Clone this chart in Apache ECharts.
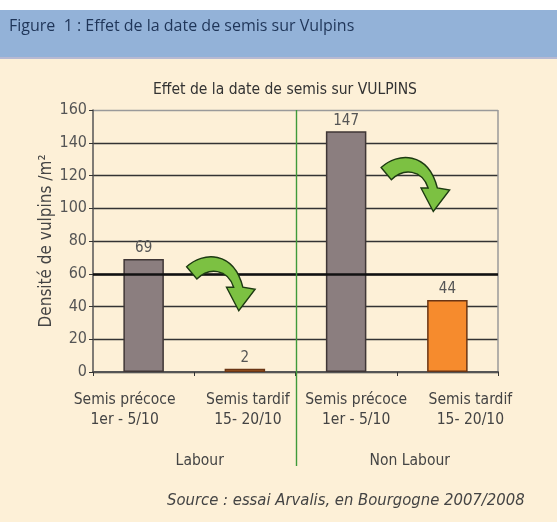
<!DOCTYPE html>
<html lang="fr">
<head>
  <meta charset="UTF-8">
  <title>Effet de la date de semis sur Vulpins</title>
  <script src="https://cdn.jsdelivr.net/npm/echarts@6/dist/echarts.min.js"></script>
  <style>
    html, body { margin: 0; padding: 0; background: #fff; }
    #chart { width: 557px; height: 522px; }
  </style>
</head>
<body>
  <div id="chart"></div>
<script>
  const categories = ["Semis précoce\n1er - 5/10", "Semis tardif\n15- 20/10", "Semis précoce\n1er - 5/10", "Semis tardif\n15- 20/10"];
  const groups = ["Labour", "Non Labour"];
  const values = [69, 2, 147, 44];
  const yTicks = [0, 20, 40, 60, 80, 100, 120, 140, 160];
  // where the green arrows sit: [category, value]
  const arrows = [[1, 60], [3, 120]];

  const font = "'Liberation Sans Narrow', 'DejaVu Sans Condensed', sans-serif";
  const grey = "#8b7e7f";
  const orange = "#f68b2d";
  const arrowPath = "M0 10 C16 -5 46 -6 55 30 L67 32 L51 53 L39 30 L46 30 C40 12 22 10 10 22 Z";

  const chart = echarts.init(document.getElementById("chart"));

  const option = {
    backgroundColor: "#fdf0d7",
    animation: false,
    title: {
      text: "Effet de la date de semis sur VULPINS",
      left: 280, top: 77, textAlign: "center",
      textStyle: { fontFamily: font, fontSize: 15.5, fontWeight: "normal", color: "#333" }
    },
    grid: { left: 93, top: 110, width: 405, height: 262 },
    xAxis: [
      {
        type: "category",
        data: categories.map((c, i) => ({
          value: c,
          textStyle: { padding: [[0, 38, 0, 0], [0, 0, 0, 6], [0, 0, 0, 20], [0, 0, 0, 46]][i] }
        })),
        axisLine: { lineStyle: { color: "#555", width: 2 } },
        axisTick: { show: true, length: 4, lineStyle: { color: "#333" } },
        axisLabel: { interval: 0, fontFamily: font, fontSize: 15.5, color: "#444", lineHeight: 20, margin: 18 },
        splitLine: { show: true, lineStyle: { color: ["transparent", "transparent", "transparent", "transparent", "#9a9a9a"], width: 1.5 } }
      },
      {
        type: "category",
        position: "bottom",
        offset: 73,
        data: groups.map((g, i) => ({ value: g, textStyle: { padding: [[0, 0, 0, 11], [0, 0, 0, 26]][i] } })),
        axisLine: { show: false },
        axisTick: { show: false },
        axisLabel: { interval: 0, fontFamily: font, fontSize: 15.5, color: "#444" }
      }
    ],
    yAxis: {
      type: "value",
      min: 0, max: 160, interval: 20,
      name: "Densité de vulpins /m²",
      nameLocation: "middle",
      nameGap: 38,
      nameMoveOverlap: false,
      nameTextStyle: { fontFamily: font, fontSize: 17, color: "#444" },
      axisLine: { show: true, lineStyle: { color: "#555", width: 1.5 } },
      axisTick: { show: true, length: 4, lineStyle: { color: "#333" } },
      axisLabel: {
        fontFamily: font, fontSize: 16, color: "#555", margin: 6,
        formatter: v => (yTicks.includes(v) ? String(v) : "")
      },
      splitLine: {
        lineStyle: { color: ["#333", "#333", "#333", "#333", "#333", "#333", "#333", "#333", "#9a9a9a"], width: 1.4 }
      }
    },
    series: [
      {
        type: "bar",
        barWidth: "40%",
        data: values.map((v, i) => ({
          value: v,
          itemStyle: {
            color: i % 2 === 0 ? grey : orange,
            borderColor: i % 2 === 0 ? "#3f3636" : "#6a3514",
            borderWidth: 1.5
          }
        })),
        label: { show: true, position: "top", distance: 3, fontFamily: font, fontSize: 15, color: "#555" },
        markLine: {
          silent: true, symbol: "none", label: { show: false },
          lineStyle: { color: "#111", width: 2.6, type: "solid" },
          data: [{ yAxis: 60 }]
        },
        z: 3
      },
      {
        type: "custom",
        silent: true,
        z: 6,
        data: arrows,
        renderItem: (params, api) => {
          const p = api.coord([api.value(0), api.value(1)]);
          const off = params.dataIndex === 0 ? [-59, -17] : [-67, -18];
          return {
            type: "path",
            x: p[0] + off[0], y: p[1] + off[1],
            shape: { pathData: arrowPath, x: 0, y: 0, width: 70, height: 54 },
            style: { fill: "#7cc142", stroke: "#1d3a12", lineWidth: 1.4 }
          };
        }
      }
    ]
  };

  chart.setOption(option);

  const px = (cat, val) => chart.convertToPixel({ gridIndex: 0 }, [cat, val]);
  const sepTop = px(1.5, 160);
  const sepX = Math.round((px(1, 0)[0] + px(2, 0)[0]) / 2) + 0.5;

  chart.setOption({
    graphic: [
      { type: "rect", left: 0, top: 0, shape: { width: 557, height: 10 }, style: { fill: "#fff" }, z: 0 },
      { type: "rect", left: 0, top: 10, shape: { width: 557, height: 47 }, style: { fill: "#93b2d8" }, z: 0 },
      { type: "rect", left: 0, top: 57, shape: { width: 557, height: 2 }, style: { fill: "#b7b9d2" }, z: 0 },
      {
        type: "text", left: 9, top: 18,
        style: { text: "Figure  1 : Effet de la date de semis sur Vulpins", fontFamily: "'Open Sans', 'Noto Sans', sans-serif", fontSize: 16, fill: "#1f3558" },
        z: 1
      },
      {
        type: "line", shape: { x1: sepX, y1: sepTop[1], x2: sepX, y2: 466 },
        style: { stroke: "#3f9a3a", lineWidth: 1.4 }, z: 5
      },
      {
        type: "text", left: 167, top: 492,
        style: { text: "Source : essai Arvalis, en Bourgogne 2007/2008", fontFamily: font, fontSize: 16.5, fontStyle: "italic", fill: "#444" },
        z: 1
      }
    ]
  });
</script>
</body>
</html>
